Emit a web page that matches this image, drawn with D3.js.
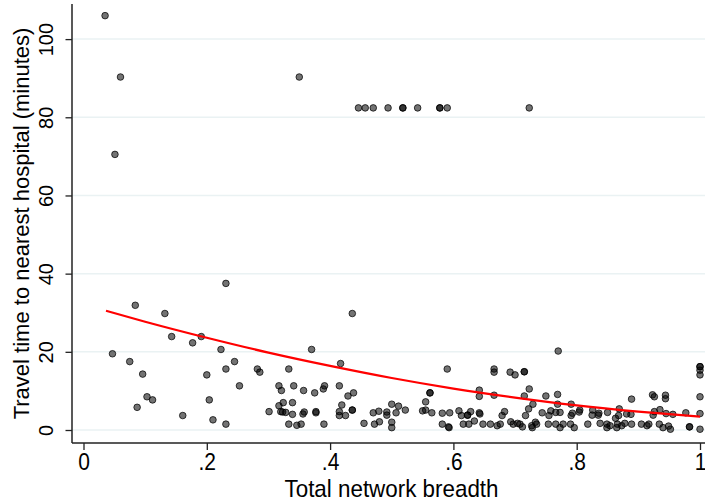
<!DOCTYPE html>
<html>
<head>
<meta charset="utf-8">
<script src="https://cdn.jsdelivr.net/npm/d3@7"></script>
<style>
  html, body { margin: 0; padding: 0; background: #fff; }
  svg { display: block; font-family: "Liberation Sans", Arial, sans-serif; }
</style>
</head>
<body>
<svg id="chart" width="705" height="502"></svg>
<script>
// Each hospital market: total network breadth and travel time to the nearest hospital
const networkBreadth = [
  0.035, 0.060, 0.051, 0.350,
  0.446, 0.457, 0.470, 0.494, 0.518, 0.518, 0.542, 0.578, 0.578, 0.590, 0.723,
  0.084, 0.132, 0.231, 0.436, 0.143, 0.177, 0.191, 0.223,
  0.047, 0.075, 0.096, 0.103, 0.112, 0.087, 0.161, 0.210, 0.231, 0.204, 0.200, 0.231, 0.245, 0.253,
  0.282, 0.286, 0.333, 0.370, 0.417,
  0.301, 0.317, 0.321, 0.341, 0.357, 0.375, 0.389, 0.391, 0.415, 0.438, 0.429, 0.419,
  0.317, 0.324, 0.320, 0.323, 0.328, 0.339, 0.339,
  0.333, 0.346, 0.353, 0.356, 0.358, 0.377, 0.377, 0.390,
  0.415, 0.415, 0.425, 0.436, 0.436, 0.455,
  0.470, 0.472, 0.480, 0.479, 0.492, 0.492,
  0.770, 0.590, 0.666, 0.666, 0.692, 0.700, 0.715, 0.715,
  1.000, 1.000, 1.000, 1.000,
  0.562, 0.562, 0.555, 0.642, 0.642, 0.666, 0.723, 0.715, 0.750, 0.769,
  0.729, 0.722, 0.717, 0.769, 0.791, 0.889, 0.923, 0.926, 0.944, 0.944, 1.000,
  0.977, 1.000, 1.000, 0.983, 0.983,
  0.956, 0.945, 0.935, 0.926, 0.924,
  0.934, 0.940, 0.952, 0.949,
  0.905, 0.914, 0.917, 0.889,
  0.869, 0.868, 0.881, 0.888, 0.863,
  0.866, 0.873, 0.878, 0.865,
  0.849, 0.854, 0.849,
  0.836, 0.835, 0.850, 0.825, 0.826,
  0.818, 0.838,
  0.805, 0.804, 0.793, 0.791,
  0.790, 0.796, 0.778, 0.773, 0.766,
  0.773, 0.766, 0.758, 0.755, 0.744,
  0.754, 0.735, 0.733, 0.727, 0.728,
  0.712, 0.708, 0.704, 0.693, 0.697,
  0.683, 0.679, 0.676, 0.671, 0.660, 0.648,
  0.642, 0.643, 0.634, 0.628, 0.625, 0.616,
  0.623, 0.623, 0.613, 0.609, 0.594, 0.582,
  0.582, 0.592, 0.593, 0.565, 0.555, 0.550,
  0.522, 0.511, 0.507, 0.500, 0.500, 0.500
];
const travelMinutes = [
  106.0, 90.3, 70.5, 90.3,
  82.4, 82.4, 82.4, 82.4, 82.4, 82.4, 82.4, 82.4, 82.4, 82.4, 82.4,
  31.9, 29.8, 37.5, 29.8, 23.9, 22.3, 23.9, 20.6,
  19.5, 17.5, 14.3, 8.5, 7.7, 5.8, 3.7, 2.6, 1.5, 7.7, 14.1, 15.6, 17.5, 11.3,
  15.6, 14.8, 15.6, 20.6, 17.0,
  4.7, 11.3, 10.1, 11.3, 10.1, 9.5, 10.5, 11.3, 11.3, 9.5, 8.7, 6.4,
  6.2, 7.0, 4.7, 4.6, 4.5, 7.0, 4.0,
  1.5, 1.2, 1.5, 4.1, 4.6, 4.7, 4.4, 1.5,
  4.7, 3.7, 3.7, 5.1, 5.1, 1.7,
  4.4, 1.5, 2.1, 4.8, 4.6, 3.8,
  20.2, 15.6, 15.6, 14.8, 14.8, 14.1, 14.9, 14.9,
  16.2, 16.2, 15.3, 14.1,
  9.5, 9.5, 7.2, 10.2, 8.6, 8.9, 10.5, 8.7, 8.7, 9.1,
  6.6, 5.4, 3.7, 6.6, 6.6, 7.9, 9.0, 8.5, 8.9, 8.0, 8.5,
  4.4, 4.2, 0.2, 0.8, 0.8,
  4.0, 4.2, 5.2, 4.7, 3.8,
  1.5, 0.6, 0.2, 1.0,
  1.5, 1.1, 1.5, 1.5,
  5.4, 3.7, 4.1, 4.0, 3.0,
  1.5, 1.1, 1.7, 0.6,
  1.5, 1.1, 0.6,
  4.3, 3.8, 4.5, 3.8, 5.1,
  1.5, 1.7,
  5.1, 4.6, 4.3, 3.7,
  1.5, 0.6, 1.5, 0.6, 1.5,
  4.5, 4.5, 4.9, 3.7, 4.4,
  1.5, 1.5, 2.0, 1.1, 0.6,
  0.8, 1.5, 1.7, 2.1, 1.5,
  4.7, 3.7, 1.5, 1.1, 1.5, 1.5,
  4.4, 4.1, 2.3, 4.7, 1.5, 1.5,
  3.8, 3.8, 3.7, 4.9, 4.4, 4.3,
  1.5, 0.8, 0.6, 4.4, 5.1, 4.9,
  5.1, 6.1, 4.4, 6.6, 2.0, 0.6
];

// Fitted curve of travel time on network breadth
const fitBreadth = [0.0365, 0.1, 0.2, 0.3, 0.4, 0.5, 0.6, 0.7, 0.8, 0.9, 1.0];
const fitMinutes = [30.5, 27.7, 23.6, 19.8, 16.4, 13.3, 10.6, 8.3, 6.3, 4.7, 3.4];

// Axis ticks
const xTickValues = [0, 0.2, 0.4, 0.6, 0.8, 1];
const xTickLabels = ["0", ".2", ".4", ".6", ".8", "1"];
const yTickValues = [0, 20, 40, 60, 80, 100];
const yTickLabels = ["0", "20", "40", "60", "80", "100"];

const xTitle = "Total network breadth";
const yTitle = "Travel time to nearest hospital (minutes)";

const svg = d3.select("#chart");
const W = 705, H = 502;
const plotLeft = 72, plotBottom = 443, plotTop = 4, plotRight = W;

const x = d3.scaleLinear().domain([0, 1]).range([83.5, 700]);
const y = d3.scaleLinear().domain([0, 100]).range([430, 39.1]);

svg.append("rect").attr("width", W).attr("height", H).attr("fill", "#fff");

// horizontal grid
svg.append("g")
  .selectAll("line")
  .data(yTickValues)
  .join("line")
  .attr("x1", plotLeft).attr("x2", plotRight)
  .attr("y1", d => y(d)).attr("y2", d => y(d))
  .attr("stroke", "#eaf2f3")
  .attr("stroke-width", 1.5);

// scatter points
svg.append("g")
  .selectAll("circle")
  .data(networkBreadth.map((b, i) => [b, travelMinutes[i]]))
  .join("circle")
  .attr("cx", d => x(d[0]))
  .attr("cy", d => y(d[1]))
  .attr("r", 3.3)
  .attr("fill", "#000")
  .attr("fill-opacity", 0.55)
  .attr("stroke", "#000")
  .attr("stroke-opacity", 0.72)
  .attr("stroke-width", 1);

// fitted curve
const fitLine = d3.line()
  .x(d => x(d[0]))
  .y(d => y(d[1]))
  .curve(d3.curveMonotoneX);
svg.append("path")
  .datum(fitBreadth.map((b, i) => [b, fitMinutes[i]]))
  .attr("d", fitLine)
  .attr("fill", "none")
  .attr("stroke", "#ff0000")
  .attr("stroke-width", 2.2);

// y axis
const yAxis = svg.append("g")
  .attr("transform", `translate(${plotLeft},0)`)
  .call(d3.axisLeft(y).tickValues(yTickValues).tickFormat((d, i) => yTickLabels[i]).tickSize(6.5).tickPadding(0));
yAxis.select(".domain").remove();
yAxis.selectAll(".tick line").attr("stroke", "#222").attr("stroke-width", 1.3);
yAxis.selectAll(".tick text")
  .attr("x", 0).attr("y", 0).attr("dy", null)
  .attr("text-anchor", "middle")
  .attr("transform", `translate(${53 - plotLeft},0) rotate(-90)`)
  .attr("font-size", 20)
  .attr("font-family", "Liberation Sans, Arial, sans-serif")
  .attr("fill", "#000");
svg.append("line")
  .attr("x1", plotLeft).attr("x2", plotLeft)
  .attr("y1", plotTop).attr("y2", plotBottom)
  .attr("stroke", "#222").attr("stroke-width", 1.5);

// x axis
const xAxis = svg.append("g")
  .attr("transform", `translate(0,${plotBottom})`)
  .call(d3.axisBottom(x).tickValues(xTickValues).tickFormat((d, i) => xTickLabels[i]).tickSize(7).tickPadding(0));
xAxis.select(".domain").remove();
xAxis.selectAll(".tick line").attr("stroke", "#222").attr("stroke-width", 1.3);
xAxis.selectAll(".tick text")
  .attr("y", 0).attr("dy", null)
  .attr("transform", "translate(0,27) scale(1,1.12)")
  .attr("font-size", 21)
  .attr("font-family", "Liberation Sans, Arial, sans-serif")
  .attr("fill", "#000");
svg.append("line")
  .attr("x1", plotLeft).attr("x2", plotRight)
  .attr("y1", plotBottom).attr("y2", plotBottom)
  .attr("stroke", "#222").attr("stroke-width", 1.5);

// axis titles
svg.append("text")
  .attr("transform", `translate(${(plotLeft + plotRight) / 2 + 3},497) scale(1,1.08)`)
  .attr("text-anchor", "middle")
  .attr("font-size", 22.4)
  .attr("fill", "#000")
  .text(xTitle);

svg.append("text")
  .attr("transform", `translate(29,${(plotTop + plotBottom) / 2}) rotate(-90)`)
  .attr("text-anchor", "middle")
  .attr("font-size", 22)
  .attr("fill", "#000")
  .text(yTitle);
</script>
</body>
</html>
